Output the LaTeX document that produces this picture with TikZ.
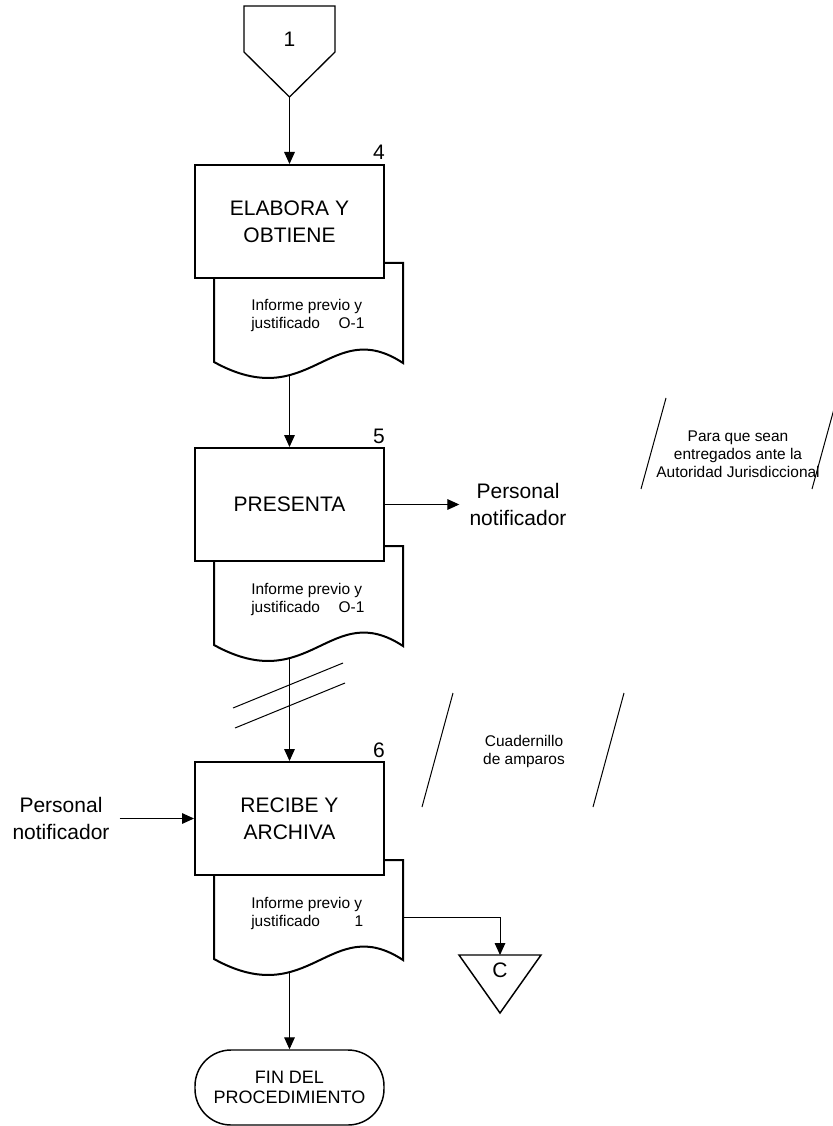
\documentclass[tikz,border=0pt]{standalone}
\usepackage{fontspec}
\setmainfont{Liberation Sans}
\usetikzlibrary{arrows.meta}
\newcommand\fbig{\fontsize{15.75pt}{20pt}\selectfont}
\newcommand\fsmall{\fontsize{11.6pt}{13.5pt}\selectfont}
\newcommand\fterm{\fontsize{13.5pt}{15pt}\selectfont}
% document shape behind a process box whose top edge is at y=#1
\newcommand\docshape[1]{%
  \draw[docline] (214,#1+98) -- (403,#1+98) -- (403,#1+198)
    .. controls (330,#1+150) and (310,#1+250) .. (214,#1+197) -- cycle;}
\begin{document}
\begin{tikzpicture}[x=0.75pt,y=-0.75pt,
  proc/.style={draw,line width=1.5pt,fill=white,minimum width=141.75pt,
    minimum height=84.75pt,inner sep=0pt,align=center,font=\fbig},
  docline/.style={line width=1.5pt,fill=white},
  doctext/.style={anchor=west,inner sep=0pt,align=left,font=\fsmall},
  numlbl/.style={anchor=base east,inner sep=0pt,font=\fbig},
  arr/.style={line width=0.75pt,-{Triangle[length=9pt,width=8pt]}},
  thin/.style={line width=0.75pt},
  bigtext/.style={align=center,font=\fbig,inner xsep=7.5pt,inner ysep=0pt},
  note/.style={align=center,font=\fsmall,inner sep=0pt},
  term/.style={draw,line width=1.1pt,rounded corners=27pt,minimum width=141.75pt,
    minimum height=56.25pt,inner sep=0pt,align=center,font=\fterm}
]
\useasboundingbox (0,0) rectangle (832,1126);
\fill[white] (0,0) rectangle (832,1126);

% off-page connector 1
\draw[line width=1pt] (244,6) -- (335,6) -- (335,52) -- (289.5,97) -- (244,52) -- cycle;
\node[font=\fbig,inner sep=0pt] (c1) at (289.5,39) {1};
\coordinate (c1tip) at (289.5,97);

% step 4
\docshape{165}
\node[proc] (b4) at (289.5,221.5) {ELABORA Y\\OBTIENE};
\node[numlbl] (n4) at ([yshift=3pt]b4.north east) {4};
\node[doctext] (t4) at (251,316) {Informe previo y\\justificado\hspace{14pt}O-1};
\coordinate (d4b) at (289.5,375);

% step 5
\docshape{448}
\node[proc] (b5) at (289.5,504.5) {PRESENTA};
\node[numlbl] (n5) at ([yshift=3pt]b5.north east) {5};
\node[doctext] (t5) at (251,599) {Informe previo y\\justificado\hspace{14pt}O-1};
\coordinate (d5b) at (289.5,658);

% step 6
\docshape{762}
\node[proc] (b6) at (289.5,818.5) {RECIBE Y\\ARCHIVA};
\node[numlbl] (n6) at ([yshift=3pt]b6.north east) {6};
\node[doctext] (t6) at (251,913) {Informe previo y\\justificado\hspace{26pt}1};
\coordinate (d6b) at (289.5,972);
\coordinate (d6r) at (403,917);

% end
\node[term] (fin) at (289.5,1087.5) {FIN DEL\\PROCEDIMIENTO};

% external texts
\node[bigtext] (pn1) at (518,504.5) {Personal\\notificador};
\node[bigtext] (pn2) at (61,818.5) {Personal\\notificador};

% connector C
\draw[line width=1.1pt] (459,955) -- (541,955) -- (500,1013) -- cycle;
\coordinate (ctop) at (500,955);
\node[font=\fbig,inner sep=0pt] (cc) at (500,970) {C};

% annotations
\draw[thin] (666,398) -- (641,489);
\draw[thin] (837,398) -- (812,489);
\node[note] (a1) at (738,454) {Para que sean\\entregados ante la\\Autoridad Jurisdiccional};
\draw[thin] (453,693) -- (422,807);
\draw[thin] (624,693) -- (593,807);
\node[note] (a2) at (524,751) {Cuadernillo\\de amparos};

% double slash
\draw[thin] (233,708) -- (343,663);
\draw[thin] (235,728) -- (345,683);

% connectors
\draw[arr] (c1tip) -- (b4.north);
\draw[arr] (d4b) -- (b5.north);
\draw[arr] (d5b) -- (b6.north);
\draw[arr] (d6b) -- (fin.north);
\draw[arr] (b5.east) -- (b5.east -| pn1.west);
\draw[arr] (pn2.east |- b6.west) -- (b6.west);
\draw[arr] (d6r) -| (ctop);
\end{tikzpicture}
\end{document}
